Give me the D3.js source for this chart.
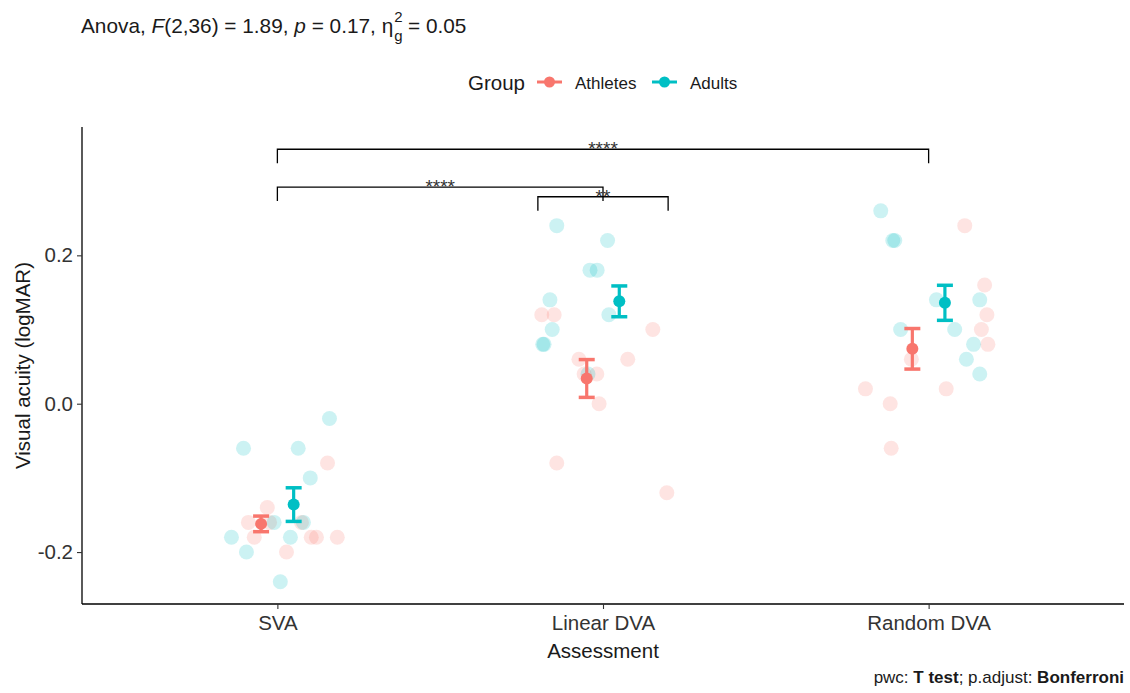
<!DOCTYPE html>
<html>
<head>
<meta charset="utf-8">
<script src="https://cdn.jsdelivr.net/npm/d3@7"></script>
<style>
  html, body { margin: 0; padding: 0; background: #fff; }
  svg { display: block; font-family: "Liberation Sans", Arial, sans-serif; }
  text { white-space: pre; }
</style>
</head>
<body>
<svg id="chart" width="1130" height="693"></svg>
<script>
// ---------------- data ----------------
const categories = ["SVA", "Linear DVA", "Random DVA"];
const groups = ["Athletes", "Adults"];
const groupColors = ["#F8766D", "#00BFC4"];
const yTicks = [-0.2, 0.0, 0.2];
const yTickLabels = ["-0.2", "0.0", "0.2"];

const athletesSVA     = [-0.08, -0.14, -0.16, -0.18, -0.20, -0.18, -0.18, -0.18, -0.16, -0.16];
const athletesLinear  = [0.12, 0.12, 0.10, 0.06, 0.06, 0.04, 0.04, 0.00, -0.08, -0.12];
const athletesRandom  = [0.24, 0.16, 0.12, 0.10, 0.08, 0.06, 0.02, 0.02, 0.00, -0.06];
const adultsSVA       = [-0.02, -0.06, -0.06, -0.10, -0.16, -0.16, -0.18, -0.18, -0.20, -0.24];
const adultsLinear    = [0.24, 0.22, 0.18, 0.18, 0.14, 0.12, 0.10, 0.08, 0.08, 0.04];
const adultsRandom    = [0.26, 0.22, 0.22, 0.14, 0.14, 0.10, 0.10, 0.08, 0.06, 0.04];

const athletesSVAJit    = [0.154, -0.031, -0.089, -0.071, 0.028, 0.104, 0.120, 0.184, -0.024, 0.074];
const athletesLinearJit = [-0.188, -0.150, 0.153, -0.074, 0.076, -0.019, -0.058, -0.012, -0.142, 0.196];
const athletesRandomJit = [0.111, 0.172, 0.179, 0.162, 0.182, -0.053, -0.194, 0.054, -0.118, -0.115];
const adultsSVAJit      = [0.160, -0.104, 0.064, 0.101, -0.010, 0.080, -0.141, 0.040, -0.095, 0.009];
const adultsLinearJit   = [-0.142, 0.014, -0.040, -0.018, -0.163, 0.018, -0.156, -0.185, -0.181, -0.046];
const adultsRandomJit   = [-0.147, -0.110, -0.104, 0.024, 0.157, -0.086, 0.080, 0.138, 0.116, 0.157];

// pairwise comparison brackets
const bracketFrom   = [0, 0, 1];          // category index
const bracketTo     = [2, 1, 1];
const bracketFromOff = [0, 0, -0.2];      // offset in category units
const bracketToOff   = [0, 0, 0.2];
const bracketY      = [0.343, 0.292, 0.279];
const bracketLabels = ["****", "****", "**"];

const titleParts = { pre: "Anova, ", F: "F", fArgs: "(2,36) = 1.89, ", p: "p", pRest: " = 0.17, ", eta: "η", sup: "2", sub: "g", post: " = 0.05" };
const yTitle = "Visual acuity (logMAR)";
const xTitle = "Assessment";
const legendTitle = "Group";

// ---------------- build ----------------
const obs = [
  [athletesSVA, athletesLinear, athletesRandom],
  [adultsSVA, adultsLinear, adultsRandom]
];
const jit = [
  [athletesSVAJit, athletesLinearJit, athletesRandomJit],
  [adultsSVAJit, adultsLinearJit, adultsRandomJit]
];

const svg = d3.select("#chart");
const pLeft = 82, pRight = 1124, pTop = 127, pBottom = 604;

const x = d3.scalePoint().domain(categories).range([pLeft, pRight]).padding(0.6);
const step = x.step();
const y = d3.scaleLinear().domain([-0.27, 0.373]).range([pBottom, pTop]);
const dodge = [-0.05, 0.05];

// title
const titleSize = 20.8;
const title = svg.append("text").attr("x", 81).attr("y", 33)
  .attr("font-size", titleSize).attr("fill", "#1a1a1a");
title.append("tspan").text(titleParts.pre);
title.append("tspan").attr("font-style", "italic").text(titleParts.F);
title.append("tspan").text(titleParts.fArgs);
title.append("tspan").attr("font-style", "italic").text(titleParts.p);
title.append("tspan").text(titleParts.pRest);
title.append("tspan").text(titleParts.eta);
const tW = title.node().getComputedTextLength();
svg.append("text").attr("x", 81 + tW + 1).attr("y", 22).attr("font-size", 15).attr("fill", "#1a1a1a").text(titleParts.sup);
svg.append("text").attr("x", 81 + tW + 1).attr("y", 41).attr("font-size", 15).attr("fill", "#1a1a1a").text(titleParts.sub);
svg.append("text").attr("x", 81 + tW + 9).attr("y", 33).attr("font-size", titleSize).attr("fill", "#1a1a1a").text(titleParts.post);

// legend
const lg = svg.append("g");
lg.append("text").attr("x", 468).attr("y", 90).attr("font-size", 20.5).attr("fill", "#1a1a1a").text(legendTitle);
const keyX = [537, 652];
groups.forEach((g, i) => {
  lg.append("line").attr("x1", keyX[i]).attr("x2", keyX[i] + 25).attr("y1", 82).attr("y2", 82)
    .attr("stroke", groupColors[i]).attr("stroke-width", 3);
  lg.append("circle").attr("cx", keyX[i] + 12.5).attr("cy", 82).attr("r", 5.5).attr("fill", groupColors[i]);
  lg.append("text").attr("x", keyX[i] + 38).attr("y", 89).attr("font-size", 17).attr("fill", "#1a1a1a").text(g);
});

// axes
const yAxis = d3.axisLeft(y).tickValues(yTicks).tickFormat((d, i) => yTickLabels[i]).tickSize(5).tickPadding(4);
const yg = svg.append("g").attr("transform", `translate(${pLeft},0)`).call(yAxis);
yg.select(".domain").attr("d", `M0,${pTop}V${pBottom}`).attr("stroke", "#000").attr("stroke-width", 1.3);
yg.selectAll(".tick line").attr("stroke", "#333").attr("stroke-width", 1.1);
yg.selectAll(".tick text").attr("font-size", 20.5).attr("fill", "#333").attr("font-family", "Liberation Sans, Arial, sans-serif");

const xAxis = d3.axisBottom(x).tickSize(5).tickPadding(6);
const xg = svg.append("g").attr("transform", `translate(0,${pBottom})`).call(xAxis);
xg.select(".domain").attr("d", `M${pLeft},0H${pRight}`).attr("stroke", "#000").attr("stroke-width", 1.3);
xg.selectAll(".tick line").attr("stroke", "#333").attr("stroke-width", 1.1);
xg.selectAll(".tick text").attr("font-size", 20.5).attr("fill", "#333").attr("font-family", "Liberation Sans, Arial, sans-serif");

svg.append("text").attr("x", (pLeft + pRight) / 2).attr("y", 658).attr("text-anchor", "middle")
  .attr("font-size", 20.5).attr("fill", "#1a1a1a").text(xTitle);
svg.append("text").attr("transform", `translate(30,${(pTop + pBottom) / 2}) rotate(-90)`).attr("text-anchor", "middle")
  .attr("font-size", 20.5).attr("fill", "#1a1a1a").text(yTitle);

// raw points
const pts = svg.append("g");
groups.forEach((g, gi) => {
  categories.forEach((c, ci) => {
    obs[gi][ci].forEach((v, k) => {
      pts.append("circle")
        .attr("cx", x(c) + jit[gi][ci][k] * step)
        .attr("cy", y(v))
        .attr("r", 7.5)
        .attr("fill", groupColors[gi])
        .attr("fill-opacity", 0.2);
    });
  });
});

// mean +/- SE
const summ = svg.append("g");
groups.forEach((g, gi) => {
  categories.forEach((c, ci) => {
    const vals = obs[gi][ci];
    const m = d3.mean(vals);
    const se = d3.deviation(vals) / Math.sqrt(vals.length);
    const cx = x(c) + dodge[gi] * step;
    summ.append("line").attr("x1", cx).attr("x2", cx).attr("y1", y(m - se)).attr("y2", y(m + se))
      .attr("stroke", groupColors[gi]).attr("stroke-width", 3.2);
    [m - se, m + se].forEach(v => {
      summ.append("line").attr("x1", cx - 8).attr("x2", cx + 8).attr("y1", y(v)).attr("y2", y(v))
        .attr("stroke", groupColors[gi]).attr("stroke-width", 3.5);
    });
    summ.append("circle").attr("cx", cx).attr("cy", y(m)).attr("r", 6).attr("fill", groupColors[gi]);
  });
});

// brackets
const br = svg.append("g");
const tip = 14;
bracketY.forEach((by, i) => {
  const x1 = x(categories[bracketFrom[i]]) + bracketFromOff[i] * step;
  const x2 = x(categories[bracketTo[i]]) + bracketToOff[i] * step;
  const yy = y(by);
  br.append("path").attr("d", `M${x1},${yy + tip}V${yy}H${x2}V${yy + tip}`)
    .attr("fill", "none").attr("stroke", "#000").attr("stroke-width", 1.3);
  br.append("text").attr("x", (x1 + x2) / 2).attr("y", yy + 6).attr("text-anchor", "middle")
    .attr("font-size", 19).attr("fill", "#333").text(bracketLabels[i]);
});

// caption
const cap = svg.append("text").attr("x", 1124).attr("y", 683).attr("text-anchor", "end")
  .attr("font-size", 17).attr("fill", "#1a1a1a");
cap.append("tspan").text("pwc: ");
cap.append("tspan").attr("font-weight", "bold").text("T test");
cap.append("tspan").text("; p.adjust: ");
cap.append("tspan").attr("font-weight", "bold").text("Bonferroni");
</script>
</body>
</html>
